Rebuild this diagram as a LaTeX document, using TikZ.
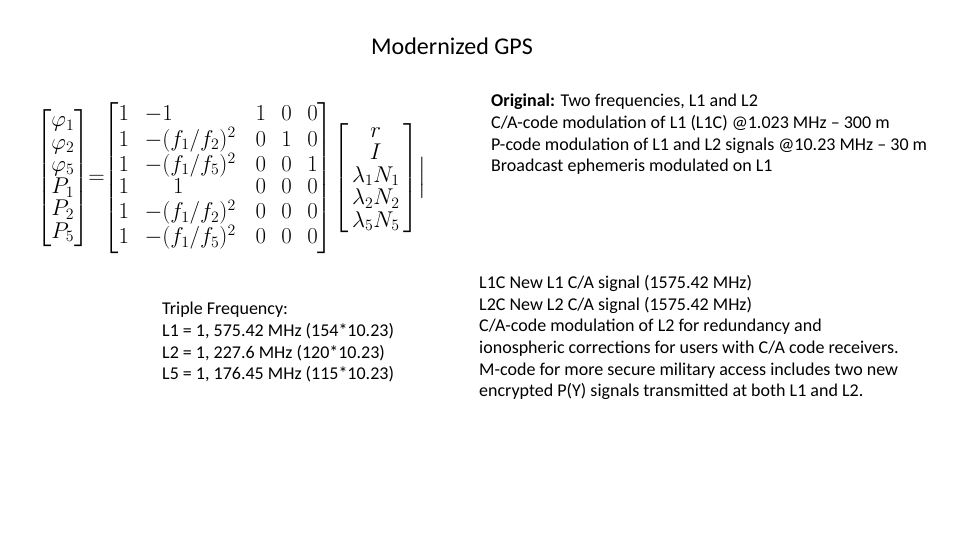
\documentclass[tikz,border=0pt]{standalone}
\usepackage{amsmath}
\usepackage{fontspec}
\setmainfont{Carlito}
\begin{document}
\begin{tikzpicture}[x=1pt,y=-1pt,
  txt/.style={anchor=north west,align=left,inner sep=0pt,font=\fontsize{18}{21.7}\selectfont}]
\useasboundingbox (0,0) rectangle (960,540);
\node[font=\fontsize{24}{26}\selectfont] (title) at (452,46) {Modernized GPS};
\node[anchor=west,inner sep=0pt,font=\fontsize{20}{22}\selectfont] (eq) at (36,178)
{\scalebox{1.1}{$\renewcommand{\arraystretch}{0.92}
\left[\begin{array}{@{}l@{}}\varphi_1\\ \varphi_2\\ \varphi_5\\ P_1\\ P_2\\ P_5\end{array}\right]\!\!
=\!\!\left[\begin{array}{@{}l@{\hspace{14pt}}l@{\hspace{18pt}}c@{\hspace{14pt}}c@{\hspace{14pt}}c@{}}1 & -1 & 1 & 0 & 0\\ 1 & -(f_1/f_2)^2 & 0 & 1 & 0\\ 1 & -(f_1/f_5)^2 & 0 & 0 & 1\\ 1 & \hspace{26pt}1 & 0&0&0\\ 1 & -(f_1/f_2)^2 & 0&0&0\\ 1 & -(f_1/f_5)^2 & 0&0&0\end{array}\right]\!
\left[\begin{array}{@{\,}c@{\,}}r\\ I\\ \lambda_1N_1\\ \lambda_2N_2\\ \lambda_5N_5\end{array}\right]\!\Big|$}};
\node[txt] (orig) at (491,94) {\textbf{Original:} Two frequencies, L1 and L2\\
C/A-code modulation of L1 (L1C) @1.023 MHz -- 300 m\\
P-code modulation of L1 and L2 signals @10.23 MHz -- 30 m\\
Broadcast ephemeris modulated on L1};
\node[txt] (triple) at (162,302) {Triple Frequency:\\
L1 = 1, 575.42 MHz (154*10.23)\\
L2 = 1, 227.6 MHz (120*10.23)\\
L5 = 1, 176.45 MHz (115*10.23)};
\node[txt] (new) at (479,275) {L1C New L1 C/A signal (1575.42 MHz)\\
L2C New L2 C/A signal (1575.42 MHz)\\
C/A-code modulation of L2 for redundancy and\\
ionospheric corrections for users with C/A code receivers.\\
M-code for more secure military access includes two new\\
encrypted P(Y) signals transmitted at both L1 and L2.};
\end{tikzpicture}
\end{document}
